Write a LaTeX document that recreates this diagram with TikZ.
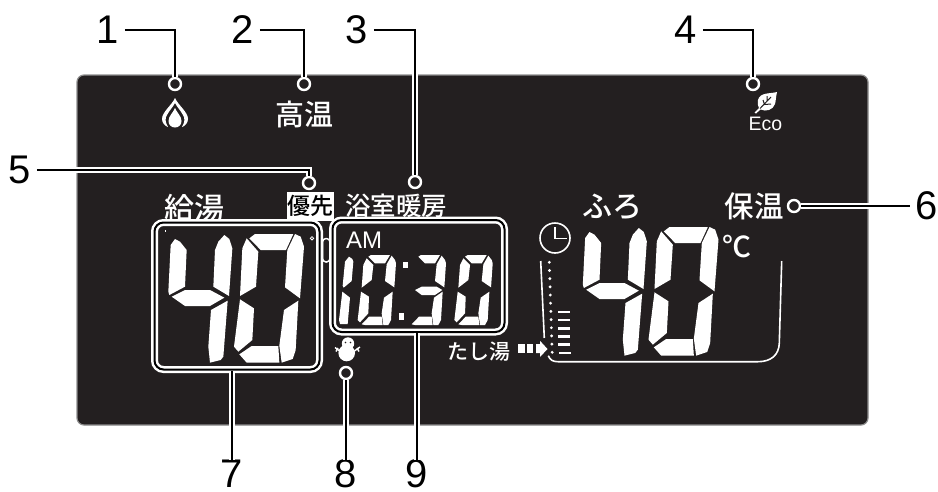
\documentclass[tikz,border=0pt]{standalone}
\usepackage{fontspec}
\setmainfont{Liberation Sans}
\newfontfamily\jp{Noto Sans CJK JP Medium}
\definecolor{lcdbg}{HTML}{231F20}
\newcommand{\sg}[1]{\fill[white] #1 -- cycle;}
% big digits, drawn in 3x crop units
\newcommand{\bigforty}{%
\sg{(135,207)--(150,215)--(170,240)--(165,350)--(118,375)--(115,365)--(122,225)}
\sg{(125,380)--(165,360)--(240,360)--(283,383)--(240,408)--(165,408)}
\sg{(283,195)--(298,207)--(307,235)--(297,378)--(250,350)--(255,240)--(265,215)}
\sg{(293,392)--(280,560)--(272,570)--(240,578)--(235,530)--(243,420)}
\sg{(358,205)--(375,192)--(490,192)--(468,240)--(392,240)}
\sg{(350,205)--(385,245)--(378,350)--(330,378)--(337,235)}
\sg{(495,192)--(512,200)--(522,230)--(510,385)--(465,352)--(472,240)}
\sg{(330,388)--(372,415)--(367,510)--(325,545)--(312,530)}
\sg{(505,392)--(497,540)--(488,567)--(455,578)--(448,527)--(462,420)}
\sg{(328,553)--(365,528)--(445,528)--(448,578)--(350,578)}}
% small digit segments
\newcommand{\smtop}{\sg{(100,35)--(108,30)--(165,30)--(150,55)--(120,55)}}
\newcommand{\smul}{\sg{(95,40)--(115,60)--(110,105)--(80,128)--(85,60)}}
\newcommand{\smur}{\sg{(170,32)--(180,45)--(183,55)--(178,127)--(150,108)--(155,58)}}
\newcommand{\smll}{\sg{(78,140)--(102,155)--(100,205)--(75,232)--(68,225)}}
\newcommand{\smlr}{\sg{(173,140)--(168,225)--(160,240)--(145,240)--(140,205)--(147,158)}}
\newcommand{\smbot}{\sg{(80,238)--(102,215)--(140,215)--(143,240)--(90,240)}}
\newcommand{\smmid}{\sg{(90,135)--(110,125)--(155,125)--(172,135)--(150,150)--(110,150)}}
\tikzset{
  num/.style={font=\fontsize{40}{40}\selectfont,text=black,inner xsep=5.5pt,inner ysep=0pt},
  jptext/.style={text=white,inner sep=0pt,font=\jp\fontsize{#1}{#1}\selectfont},
  ringdot/.style={circle,draw=white,fill=lcdbg,line width=2.4pt,minimum size=12pt,inner sep=0pt},
  leader/.style={draw=white,line width=2pt,double=black,double distance=2.2pt},
  lcdframe/.style={draw=white,line width=2.5pt,double=black,double distance=2pt,rounded corners=9pt,inner sep=0pt},
  thin white/.style={draw=white,line width=1.6pt},
  crop/.style={shift={#1},xscale=0.33333,yscale=0.33333},
}
\begin{document}
\begin{tikzpicture}[x=1pt,y=-1pt]
\useasboundingbox (0,0) rectangle (938,491);
\node[draw=black!45,fill=lcdbg,line width=1.2pt,rounded corners=7pt,minimum width=791pt,minimum height=350pt,inner sep=0pt] (panel) at (472.5,250) {};

% texts
\node[jptext=29] (koon) at (304,114) {高温};
\node[jptext=30] (kyuto) at (194,208) {給湯};
\node[fill=white,minimum width=47pt,minimum height=29pt,inner sep=0pt,text=black,font=\jp\fontsize{23}{23}\selectfont] (yusen) at (310,206) {優先};
\node[jptext=25.5] (yokushitsu) at (396,206) {浴室暖房};
\node[jptext=30] (furo) at (612,207) {ふろ};
\node[jptext=29.5] (hoon) at (754,206) {保温};
\node[jptext=29] (deg) at (737,247) {℃};
\node[jptext=21] (tashiyu) at (478.5,352) {たし湯};
\node[text=white,inner sep=0pt,font=\fontsize{24}{24}\selectfont] (am) at (364,240) {AM};
\node[text=white,inner sep=0pt,font=\fontsize{19.5}{19.5}\selectfont] (eco) at (765.5,124) {Eco};

% flame
\fill[white] (175,98) .. controls (172,105) and (162,112) .. (162,119) .. controls (162,123) and (165,126) .. (168,127) .. controls (165,122) and (165,118) .. (167,115) .. controls (169,111) and (173,107) .. (175,103) .. controls (177,107) and (181,111) .. (183,115) .. controls (185,118) and (185,122) .. (182,127) .. controls (185,126) and (188,123) .. (188,119) .. controls (188,112) and (178,105) .. (175,98) -- cycle;
\fill[white] (175,108) .. controls (173,113) and (168.5,116) .. (168.5,121) .. controls (168.5,125) and (171.5,127.5) .. (175,127.5) .. controls (178.5,127.5) and (181.5,125) .. (181.5,121) .. controls (181.5,116) and (177,113) .. (175,108) -- cycle;

% leaf
\fill[white] (777,92) .. controls (770,94) and (760,92) .. (758,100) .. controls (757,103) and (758,106) .. (759,108) -- (754.5,112.5) -- (756,113.5) -- (760.5,109.5) .. controls (766,112) and (773,110) .. (775,104) .. controls (776,100) and (776,96) .. (777,92) -- cycle;
\draw[lcdbg,line width=1pt] (760,108.5) -- (771,97) (763,100) -- (764.5,104.5) -- (771,104) (767,101) -- (767,96);

% clock
\node[circle,thin white,minimum size=30pt,inner sep=0pt] (clock) at (555,238) {};
\draw[thin white] (555,227) -- (555,238.3) -- (566.5,238.3);

% gauge
\draw[thin white] (540.7,261) -- (544.3,338);
\foreach \i in {0,...,11} \fill[white] ({549.3+\i*0.26},{262.3+\i*8.18}) circle (1.6);
\foreach \i in {0,...,5} \fill[white] ({557.5+\i*0.2},{310.6+\i*8.2}) rectangle ++(12,2.6);
\fill[white] (518.3,344) rectangle (525,353);
\fill[white] (526.7,344) rectangle (532.7,353);
\fill[white] (536,344) -- (540,344) -- (540,340.8) -- (547.5,349) -- (540,357) -- (540,353) -- (536,353) -- cycle;
\draw[thin white] (548.3,355.7) .. controls (550,360) and (553,361.7) .. (558,361.7) -- (758,361.7) .. controls (771,361.7) and (779,355) .. (779.3,343) -- (781.7,261);

% snowman
\fill[white] (348,343.5) circle (6.2);
\fill[white] (346.7,353) circle (8.3);
\fill[lcdbg] (345.5,342.5) circle (0.9) (350.5,342.5) circle (0.9);
\draw[white,line width=1.4pt] (335,347.5) -- (341,352) (338,348) -- (336,351.5) (360,347) -- (353,352) (357,348) -- (359,351.5);

% thermometer and small marks near left frame
\draw[white,line width=1.5pt,rounded corners=3.5pt] (322.5,238.5) rectangle (330,262);
\draw[white,line width=.8pt] (312,238.3) circle (1.7);
\fill[white] (164.5,229.5) rectangle (166,231.5);

% big digits
\begin{scope}[crop={(130,170)}]\bigforty\end{scope}
\begin{scope}[crop={(544.5,163)}]\bigforty\end{scope}

% small digits: 1 0 : 3 0
\begin{scope}[crop={(335,245)}]
\sg{(42,35)--(52,42)--(55,50)--(50,108)--(26,128)--(23,122)--(30,50)}
\sg{(22,140)--(45,158)--(38,237)--(15,237)--(12,225)}
\smtop\smul\smur\smll\smlr\smbot
\fill[white] (203,50) rectangle (218,70);
\fill[white] (192,203) rectangle (206,225);
\end{scope}
\begin{scope}[crop={(385,245)}]
\smtop\smur\smmid\smlr\smbot
\end{scope}
\begin{scope}[crop={(431.7,245)}]
\smtop\smul\smur\smll\smlr\smbot
\end{scope}

% frames
\node[lcdframe,minimum width=165pt,minimum height=147pt] (leftbox) at (237,296) {};
\node[lcdframe,minimum width=172pt,minimum height=112pt] (rightbox) at (418.5,276) {};

% callout labels and rings
\node[num] (n1) at (108,30) {1};
\node[num] (n2) at (243,30) {2};
\node[num] (n3) at (357,30) {3};
\node[num] (n4) at (686,30) {4};
\node[num] (n5) at (20,170) {5};
\node[num] (n6) at (927,206) {6};
\node[num] (n7) at (232,474) {7};
\node[num] (n8) at (346,474) {8};
\node[num] (n9) at (417,474) {9};
\node[ringdot] (r1) at (175,84) {};
\node[ringdot] (r2) at (304,84) {};
\node[ringdot] (r3) at (415,182) {};
\node[ringdot] (r4) at (753,84) {};
\node[ringdot] (r5) at (309,183) {};
\node[ringdot] (r6) at (794,206) {};
\node[ringdot] (r8) at (346,373) {};

\draw[leader] (n1.east) -| (r1.north);
\draw[leader] (n2.east) -| (r2.north);
\draw[leader] (n3.east) -| (r3.north);
\draw[leader] (n4.east) -| (r4.north);
\draw[leader] (n5.east) -| (r5.north);
\draw[leader] (r6.east) -- (n6.west);
\draw[leader] (n7.north |- leftbox.south) -- (n7.north);
\draw[leader] (r8.south) -- (n8.north);
\draw[leader] (n9.north) -- (n9.north |- rightbox.south);
\end{tikzpicture}
\end{document}
